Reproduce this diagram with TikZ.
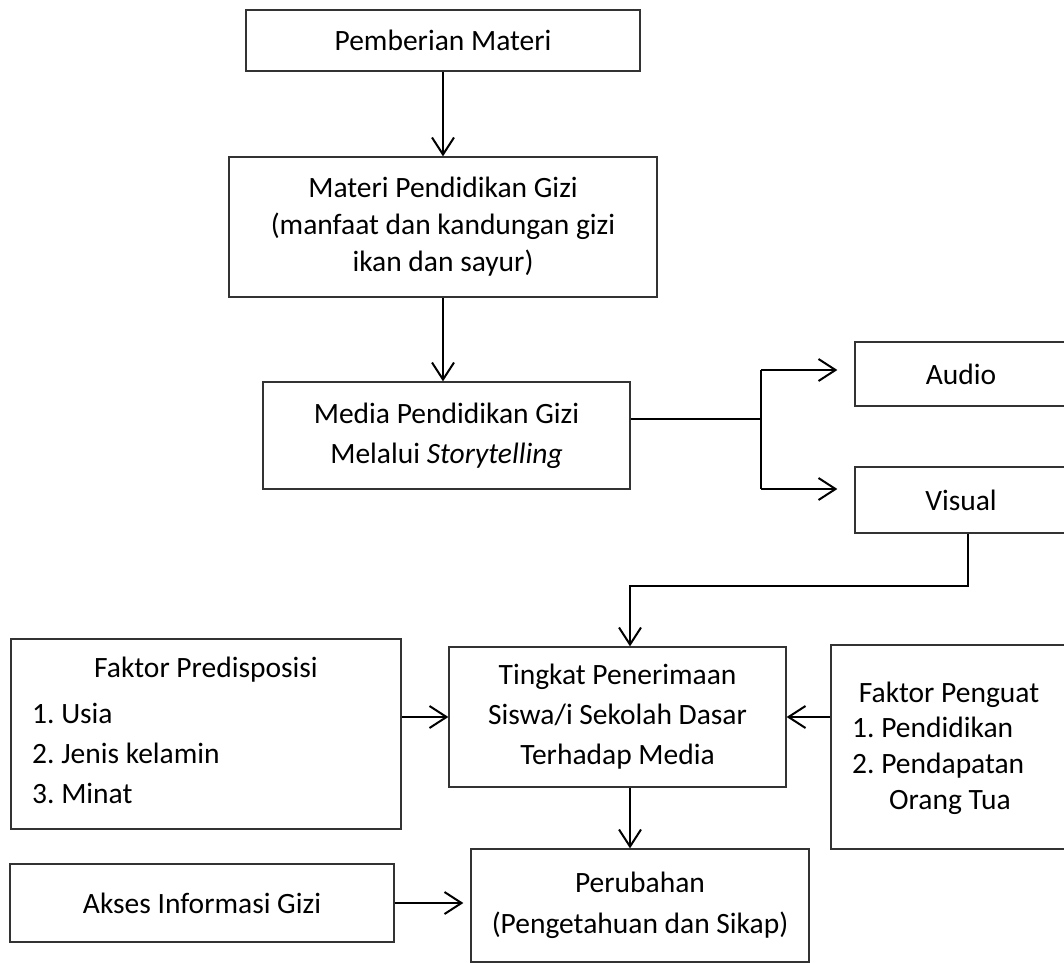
\documentclass[tikz,border=0pt]{standalone}
\usepackage{fontspec}
\setmainfont{Carlito}
\usetikzlibrary{arrows.meta}
\frenchspacing
\begin{document}
\begin{tikzpicture}[x=1pt,y=-1pt,
  box/.style={draw=black!80, line width=1.3pt, rectangle, inner sep=0pt, align=center,
    font=\fontsize{29.5}{40}\selectfont},
  txt/.style={inner sep=0pt, font=\fontsize{29.5}{40}\selectfont},
  conn/.style={line width=2pt, -{Straight Barb[length=17pt,width=22pt,line width=2pt]}},
  plainline/.style={line width=2pt}]
\useasboundingbox (0,0) rectangle (1064,963);

\node[box, minimum width=394pt, minimum height=61pt] (pm) at (443,40.5) {Pemberian Materi};
\node[box, minimum width=428pt, minimum height=140pt, font=\fontsize{29.5}{37}\selectfont] (mpg) at (443,227)
  {Materi Pendidikan Gizi\\(manfaat dan kandungan gizi\\ikan dan sayur)};
\node[box, minimum width=367pt, minimum height=107pt] (media) at (446.5,435.5)
  {Media Pendidikan Gizi\\Melalui \textit{Storytelling}};
\node[box, minimum width=212pt, minimum height=64pt] (audio) at (961,374) {Audio};
\node[box, minimum width=212pt, minimum height=66pt] (visual) at (961,500) {Visual};
\node[box, minimum width=337pt, minimum height=140pt] (tingkat) at (617.5,717)
  {Tingkat Penerimaan\\Siswa/i Sekolah Dasar\\Terhadap Media};

\node[box, minimum width=390pt, minimum height=190pt] (pred) at (206,734) {};
\node[txt] (predt) at (206,670) {Faktor Predisposisi};
\node[txt, align=left, anchor=west] (predi) at (32,753) {1. Usia\\2. Jenis kelamin\\3. Minat};

\node[box, minimum width=236pt, minimum height=204pt] (peng) at (949,747) {};
\node[txt] (pengt) at (949,695) {Faktor Penguat};
\node[txt, align=left, anchor=west, font=\fontsize{29.5}{36}\selectfont] (pengi) at (852,766)
  {1. Pendidikan\\2. Pendapatan\\\hspace*{37pt}Orang Tua};

\node[box, minimum width=384pt, minimum height=78pt] (akses) at (202,903) {Akses Informasi Gizi};
\node[box, minimum width=338pt, minimum height=113pt, font=\fontsize{29.5}{41}\selectfont] (perub) at (640,905.5)
  {Perubahan\\(Pengetahuan dan Sikap)};

\coordinate (br) at (761,419);
\coordinate (bu) at (761,370);
\coordinate (bd) at (761,489);
\coordinate (vt) at (968,586);
\coordinate (ta) at (630,586);

\draw[conn] (pm.south) -- (mpg.north);
\draw[conn] (mpg.south) -- (mpg.south |- media.north);
\draw[plainline] (media.east |- br) -- (br);
\draw[plainline] (bu) -- (bd);
\draw[conn, shorten >=17pt] (bu) -- (bu -| audio.west);
\draw[conn, shorten >=17pt] (bd) -- (bd -| visual.west);
\draw[conn] (visual.south -| vt) -- (vt) -- (ta) -- (ta |- tingkat.north);
\draw[conn] (pred.east |- tingkat.west) -- (tingkat.west);
\draw[conn] (peng.west |- tingkat.east) -- (tingkat.east);
\draw[conn] (tingkat.south -| ta) -- (ta |- perub.north);
\draw[conn, shorten >=7pt] (akses.east) -- (akses.east -| perub.west);
\end{tikzpicture}
\end{document}
